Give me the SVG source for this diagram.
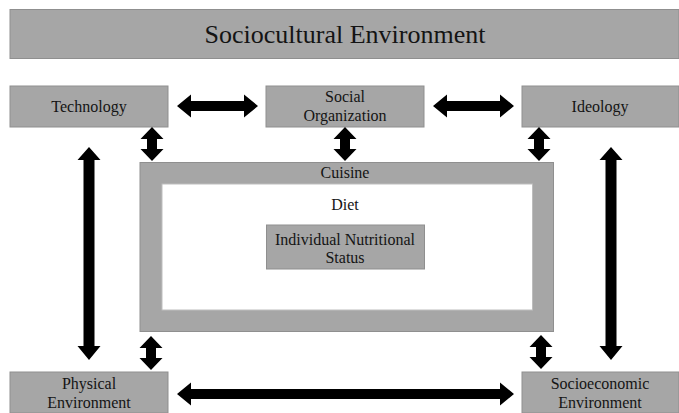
<svg xmlns="http://www.w3.org/2000/svg" width="679" height="413" viewBox="0 0 679 413" font-family="Liberation Serif">
<style>
.box{fill:#a6a6a6;stroke:#8f8f8f;stroke-width:1}
.t{font-family:'Liberation Serif',serif;font-size:16px;fill:#141414;text-anchor:middle}
.big{font-size:26px}
.arr{fill:#000}
</style>
<rect width="679" height="413" fill="#fff"/>
<g id="sociocultural">
<rect class="box" x="10" y="9.5" width="669" height="49"/>
<text class="t big" x="345" y="43">Sociocultural Environment</text>
</g>
<g id="technology">
<rect class="box" x="10" y="86" width="158" height="41"/>
<text class="t" x="89" y="112">Technology</text>
</g>
<g id="social-organization">
<rect class="box" x="266" y="86" width="158" height="41"/>
<text class="t" x="345" y="102">Social</text>
<text class="t" x="345" y="121">Organization</text>
</g>
<g id="ideology">
<rect class="box" x="522" y="86" width="157" height="41"/>
<text class="t" x="600" y="112">Ideology</text>
</g>
<g id="cuisine">
<rect class="box" x="140" y="162.5" width="413.5" height="169"/>
<text class="t" x="345" y="178">Cuisine</text>
</g>
<g id="diet">
<rect x="162" y="184" width="370.5" height="126" fill="#fff" stroke="#bdbdbd" stroke-width="1"/>
<text class="t" x="345" y="210">Diet</text>
</g>
<g id="individual-nutritional-status">
<rect class="box" x="266.5" y="225" width="158" height="44"/>
<text class="t" x="345" y="245">Individual Nutritional</text>
<text class="t" x="345" y="263">Status</text>
</g>
<g id="physical-environment">
<rect class="box" x="10" y="372" width="158" height="41"/>
<text class="t" x="89" y="389">Physical</text>
<text class="t" x="89" y="408">Environment</text>
</g>
<g id="socioeconomic-environment">
<rect class="box" x="522" y="372" width="157" height="41"/>
<text class="t" x="600" y="389">Socioeconomic</text>
<text class="t" x="600" y="408">Environment</text>
</g>
<g id="connectors" class="arr">
<polygon points="177,106 191,94.5 191,101 244,101 244,94.5 258,106 244,117.5 244,111 191,111 191,117.5"/>
<polygon points="433,106 447,94.5 447,101 500,101 500,94.5 514,106 500,117.5 500,111 447,111 447,117.5"/>
<polygon points="177,394 191,382.5 191,389 500,389 500,382.5 514,394 500,405.5 500,399 191,399 191,405.5"/>
<polygon points="152,127 163.5,139 157,139 157,149 163.5,149 152,161 140.5,149 147,149 147,139 140.5,139"/>
<polygon points="345,127 356.5,139 350,139 350,149 356.5,149 345,161 333.5,149 340,149 340,139 333.5,139"/>
<polygon points="539,127 550.5,139 544,139 544,149 550.5,149 539,161 527.5,149 534,149 534,139 527.5,139"/>
<polygon points="151,336 162.5,348 156,348 156,358 162.5,358 151,370 139.5,358 146,358 146,348 139.5,348"/>
<polygon points="541,335 552.5,347 546,347 546,357 552.5,357 541,369 529.5,357 536,357 536,347 529.5,347"/>
<polygon points="89,147 100.5,160 94.5,160 94.5,346 100.5,346 89,360 77.5,346 83.5,346 83.5,160 77.5,160"/>
<polygon points="611,147 622.5,160 616.5,160 616.5,346 622.5,346 611,360 599.5,346 605.5,346 605.5,160 599.5,160"/>
</g>
</svg>
